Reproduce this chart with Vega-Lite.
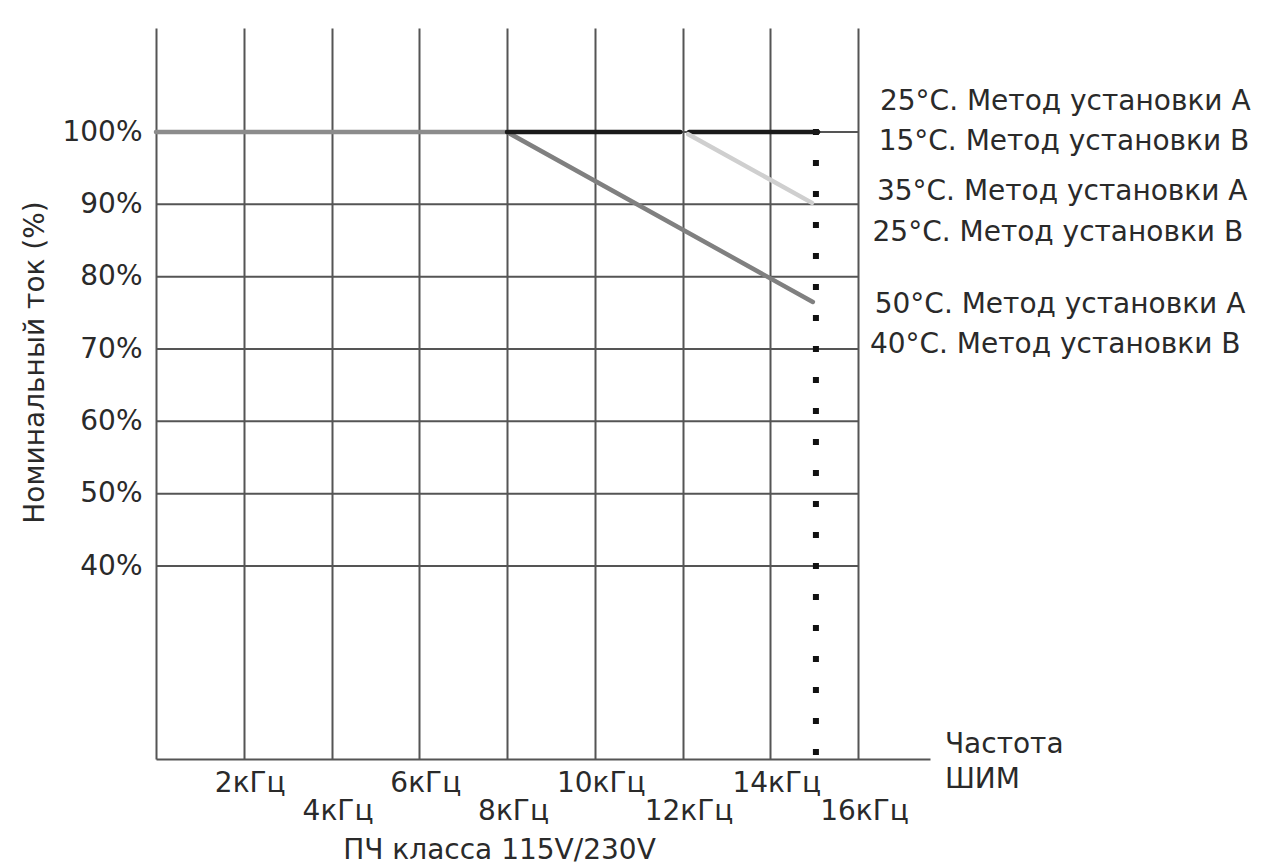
{
  "$schema": "https://vega.github.io/schema/vega-lite/v6.json",
  "width": 774,
  "height": 731,
  "autosize": {"type": "none"},
  "padding": {"left": 156, "top": 28, "right": 336, "bottom": 107},
  "background": "white",
  "config": {"view": {"stroke": null}, "font": "DejaVu Sans"},
  "datasets": {
    "grid": [{"pct": 40}, {"pct": 50}, {"pct": 60}, {"pct": 70}, {"pct": 80}, {"pct": 90}, {"pct": 100}],
    "curves": [
      {"curve": "Базовая", "seg": "s1", "freq": 0, "pct": 100},
      {"curve": "Базовая", "seg": "s1", "freq": 8, "pct": 100},
      {"curve": "50°C A / 40°C B", "seg": "s2", "freq": 8, "pct": 100},
      {"curve": "50°C A / 40°C B", "seg": "s2", "freq": 14.97, "pct": 76.5},
      {"curve": "25°C A / 15°C B", "seg": "s3", "freq": 8, "pct": 100},
      {"curve": "25°C A / 15°C B", "seg": "s3", "freq": 11.95, "pct": 100},
      {"curve": "25°C A / 15°C B", "seg": "s4", "freq": 12.15, "pct": 100},
      {"curve": "25°C A / 15°C B", "seg": "s4", "freq": 15.09, "pct": 100},
      {"curve": "35°C A / 25°C B", "seg": "s5", "freq": 12.13, "pct": 99.7},
      {"curve": "35°C A / 25°C B", "seg": "s5", "freq": 14.95, "pct": 90.2}
    ],
    "pwm": [{"freq": 15.04, "top": 100.4, "bottom": 13.4}],
    "notes": [
      {"freq": 16.5, "pct": 104.15, "label": "25°C. Метод установки А"},
      {"freq": 16.47, "pct": 98.62, "label": "15°C. Метод установки В"},
      {"freq": 16.43, "pct": 91.7, "label": "35°C. Метод установки А"},
      {"freq": 16.33, "pct": 86.04, "label": "25°C. Метод установки В"},
      {"freq": 16.38, "pct": 76.08, "label": "50°C. Метод установки А"},
      {"freq": 16.27, "pct": 70.55, "label": "40°C. Метод установки В"},
      {"freq": 17.98, "pct": 15.25, "label": "Частота"},
      {"freq": 17.98, "pct": 10.41, "label": "ШИМ"}
    ]
  },
  "layer": [
    {
      "data": {"name": "grid"},
      "mark": {"type": "rule", "color": "#555555", "strokeWidth": 2},
      "encoding": {
        "x": {
          "datum": 0,
          "type": "quantitative",
          "scale": {"domain": [0, 17.64], "nice": false, "zero": false},
          "axis": {
            "values": [0, 2, 4, 6, 8, 10, 12, 14, 16],
            "labelExpr": "datum.value == 0 ? '' : datum.value + 'кГц'",
            "grid": true,
            "gridColor": "#555555",
            "gridWidth": 2,
            "domainColor": "#555555",
            "domainWidth": 2,
            "ticks": false,
            "labelPadding": {"condition": {"test": "datum.value % 4 == 0", "value": 38}, "value": 10},
            "labelOffset": 6,
            "labelOverlap": false,
            "labelFlush": false,
            "labelBound": false,
            "labelFont": "DejaVu Sans",
            "labelFontSize": 28,
            "labelColor": "#2a2a2a",
            "title": "ПЧ класса 115V/230V",
            "titleFont": "DejaVu Sans",
            "titleFontSize": 28,
            "titleFontWeight": "normal",
            "titleColor": "#2a2a2a",
            "titleX": 343,
            "titleY": 77,
            "titleBaseline": "top",
            "titleAlign": "center"
          }
        },
        "x2": {"datum": 16},
        "y": {
          "field": "pct",
          "type": "quantitative",
          "scale": {"domain": [13.32, 114.38], "nice": false, "zero": false},
          "axis": {
            "values": [40, 50, 60, 70, 80, 90, 100],
            "labelExpr": "datum.value + '%'",
            "grid": false,
            "domain": false,
            "ticks": false,
            "labelPadding": 14,
            "labelFont": "DejaVu Sans",
            "labelFontSize": 28,
            "labelColor": "#2a2a2a",
            "title": "Номинальный ток (%)",
            "titleFont": "DejaVu Sans",
            "titleFontSize": 28,
            "titleFontWeight": "normal",
            "titleColor": "#2a2a2a",
            "titleX": -107,
            "titleY": 334,
            "titleAngle": -90,
            "titleBaseline": "bottom",
            "titleAlign": "center"
          }
        }
      }
    },
    {
      "data": {"name": "pwm"},
      "mark": {"type": "rule", "color": "#111111", "strokeWidth": 6, "strokeDash": [6, 25], "strokeCap": "butt"},
      "encoding": {
        "x": {"field": "freq", "type": "quantitative"},
        "y": {"field": "top", "type": "quantitative"},
        "y2": {"field": "bottom"}
      }
    },
    {
      "data": {"name": "curves"},
      "mark": {"type": "line", "strokeWidth": 4.5, "strokeCap": "round"},
      "encoding": {
        "x": {"field": "freq", "type": "quantitative"},
        "y": {"field": "pct", "type": "quantitative"},
        "detail": {"field": "seg"},
        "color": {
          "field": "curve",
          "type": "nominal",
          "scale": {
            "domain": ["Базовая", "50°C A / 40°C B", "25°C A / 15°C B", "35°C A / 25°C B"],
            "range": ["#8c8c8c", "#808080", "#1a1a1a", "#cfcfcf"]
          },
          "legend": null
        }
      }
    },
    {
      "data": {"name": "notes"},
      "mark": {"type": "text", "align": "left", "baseline": "middle", "font": "DejaVu Sans", "fontSize": 28, "color": "#2a2a2a"},
      "encoding": {
        "x": {"field": "freq", "type": "quantitative"},
        "y": {"field": "pct", "type": "quantitative"},
        "text": {"field": "label"}
      }
    }
  ]
}
